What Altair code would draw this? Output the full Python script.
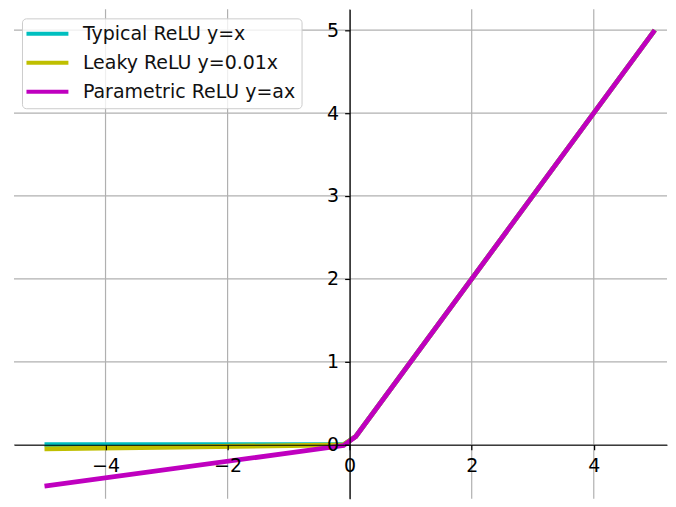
import altair as alt
import pandas as pd

# ---- data ----
x_vals = [-5.0, -0.1, 0.1, 5.0]
typical = [0.0, 0.0, 0.1, 5.0]
leaky = [-0.05, -0.001, 0.1, 5.0]
parametric = [-0.5, -0.01, 0.1, 5.0]
series = ["Typical ReLU y=x", "Leaky ReLU y=0.01x", "Parametric ReLU y=ax"]
colors = ["#00bfbf", "#bfbf00", "#bf00bf"]
x_ticks = [-4, -2, 0, 2, 4]
y_ticks = [0, 1, 2, 3, 4, 5]

# ---- layout ----
W, H = 654, 490
XMIN, XMAX = -5.5, 5.2
YMIN, YMAX = -0.65, 5.25
x_axis_offset = -H * (0 - YMIN) / (YMAX - YMIN)
y_axis_offset = -W * (0 - XMIN) / (XMAX - XMIN)
FONT = "DejaVu Sans"
FS = 19

rows = []
for name, ys in zip(series, [typical, leaky, parametric]):
    for xv, yv in zip(x_vals, ys):
        rows.append({"x": xv, "y": yv, "series": name})
df = pd.DataFrame(rows)

xscale = alt.Scale(domain=[XMIN, XMAX], nice=False, zero=False)
yscale = alt.Scale(domain=[YMIN, YMAX], nice=False, zero=False)

minus = "replace(datum.label, '-', '\u2212')"

xaxis = alt.Axis(
    values=x_ticks, orient="bottom", offset=x_axis_offset, grid=False,
    domainColor="black", domainWidth=1.2, tickColor="black", tickSize=5, tickWidth=1.2,
    labelFont=FONT, labelFontSize=FS, labelColor="black", labelPadding=7,
    labelExpr=minus, title=None, zindex=1, labelFlush=False,
)
yaxis = alt.Axis(
    values=y_ticks, orient="left", offset=y_axis_offset, grid=False,
    domainColor="black", domainWidth=1.2, tickColor="black", tickSize=5, tickWidth=1.2,
    labelFont=FONT, labelFontSize=FS, labelColor="black", labelPadding=6,
    labelExpr=minus, title=None, zindex=1, labelFlush=False,
)

grid_x = alt.Chart(pd.DataFrame({"gx": x_ticks})).mark_rule(
    color="#b0b0b0", strokeWidth=1.2
).encode(x=alt.X("gx:Q", scale=xscale, axis=xaxis))
grid_y = alt.Chart(pd.DataFrame({"gy": y_ticks})).mark_rule(
    color="#b0b0b0", strokeWidth=1.2
).encode(y=alt.Y("gy:Q", scale=yscale, axis=yaxis))

legend = alt.Legend(
    orient="none", legendX=8, legendY=9,
    symbolType="M-5.5,0H15.5", symbolSize=16, symbolStrokeWidth=4,
    labelFont=FONT, labelFontSize=FS, labelColor="#111111", labelOffset=36,
    labelLimit=400, rowPadding=9, padding=6,
    strokeColor="#cccccc", fillColor="rgba(255,255,255,0.8)", cornerRadius=4,
)

lines = alt.Chart(df).mark_line(strokeWidth=4.8, clip=True, strokeCap="butt").encode(
    x=alt.X("x:Q", scale=xscale, axis=xaxis),
    y=alt.Y("y:Q", scale=yscale, axis=yaxis),
    color=alt.Color("series:N", title=None,
                    scale=alt.Scale(domain=series, range=colors),
                    sort=series, legend=legend),
)

chart = alt.layer(grid_x, grid_y, lines).properties(
    width=W, height=H, padding={"left": 5, "top": 0, "right": 0, "bottom": 0}
).configure_view(stroke=None)

chart.save("out.html", embed_options={"renderer": "svg", "actions": False})
